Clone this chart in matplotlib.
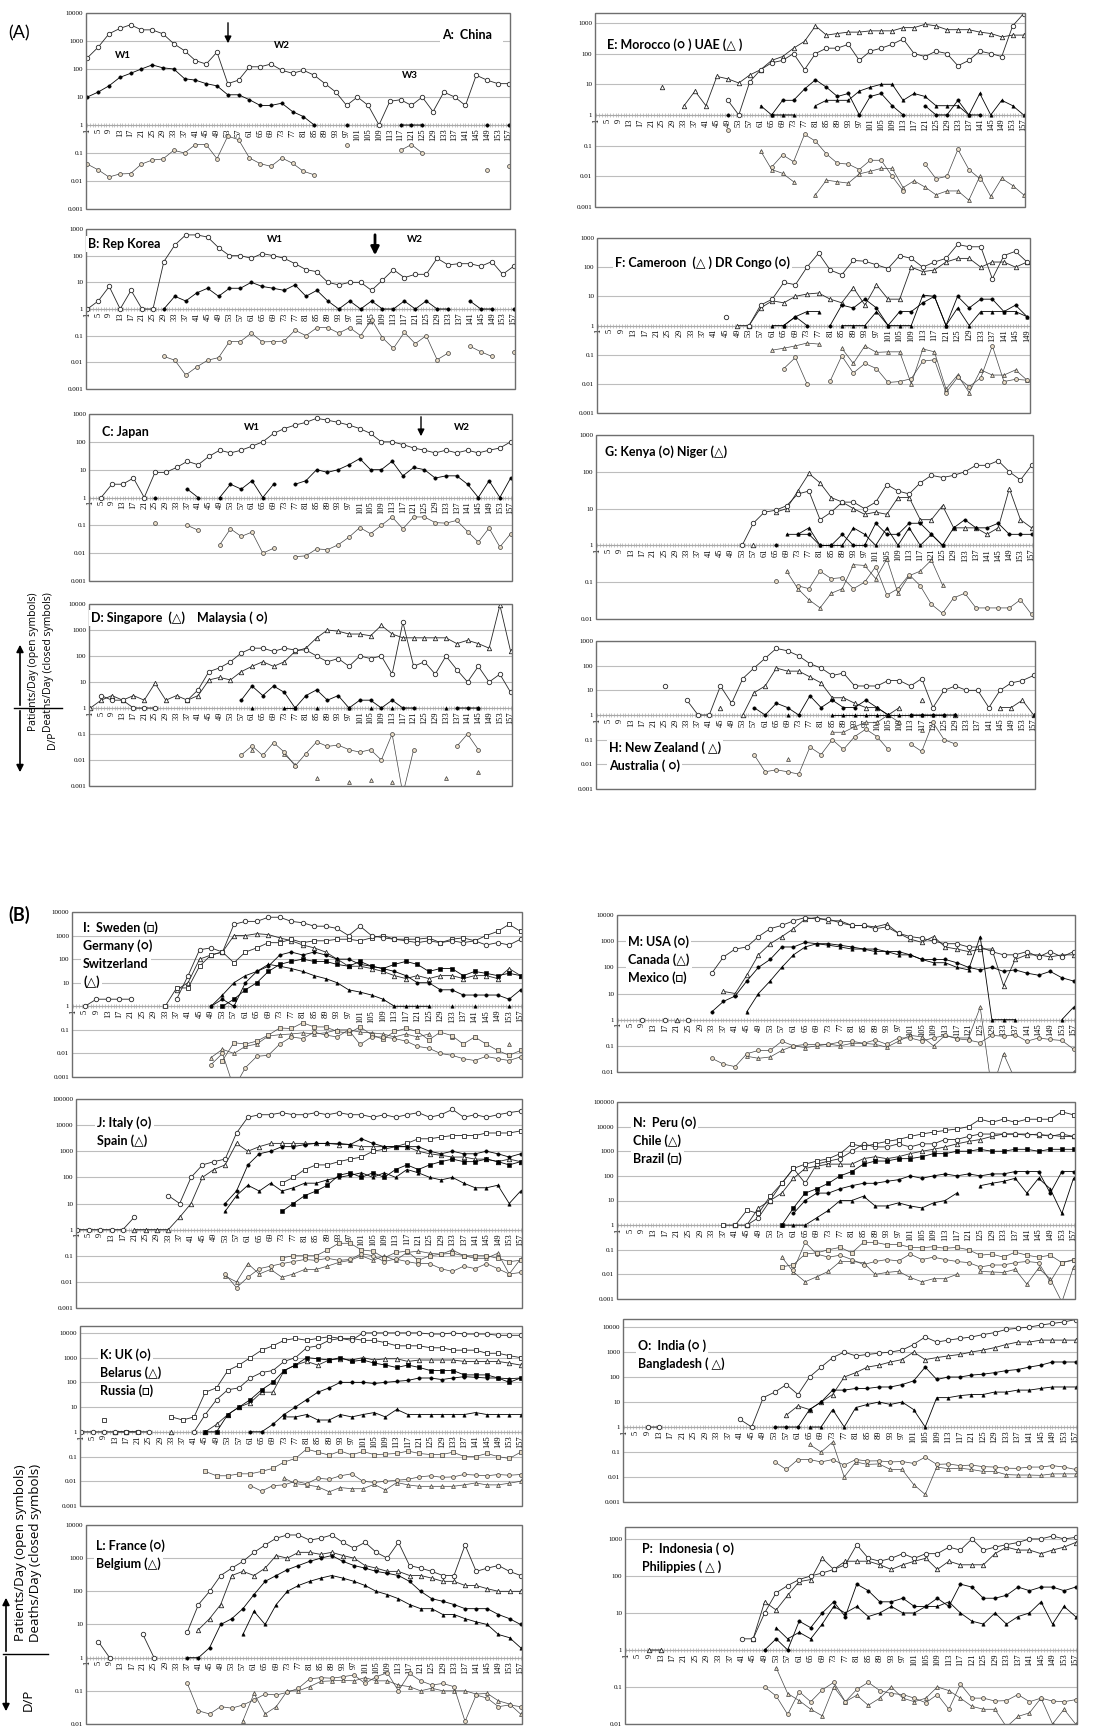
import numpy as np
import matplotlib
matplotlib.use('Agg')
import matplotlib.pyplot as plt
from matplotlib.ticker import FixedLocator, MultipleLocator, NullLocator
from matplotlib.patches import Rectangle

# --- Data (values every 4 days: day 1, 5, 9, ... ; 0 = no point) ---
china_cases = [250, 600, 1800, 2800, 3800, 2500, 2500, 1800, 800, 450, 200, 150, 400, 30, 40, 120, 120, 150, 90, 70,
               90, 60, 30, 15, 5, 10, 5, 1, 7, 8, 5, 10, 3, 15, 10, 5, 60, 40, 30, 30]
china_deaths = [10, 15, 25, 50, 70, 100, 140, 110, 100, 45, 40, 30, 25, 12, 12, 8, 5, 5, 6, 3,
                2, 1, 0, 0, 1, 0, 0, 0, 0, 1, 1, 1, 0, 0, 0, 0, 0, 1, 0, 1]

korea_cases = [1, 2, 7, 1, 5, 1, 1, 60, 250, 600, 600, 500, 200, 100, 100, 80, 120, 100, 80, 50,
               30, 25, 10, 8, 10, 10, 5, 12, 30, 15, 20, 20, 80, 45, 50, 50, 40, 60, 20, 40]
korea_deaths = [0, 0, 0, 0, 0, 0, 0, 1, 3, 2, 4, 6, 3, 6, 6, 10, 7, 6, 5, 8,
                3, 5, 2, 1, 2, 1, 2, 1, 1, 2, 1, 2, 1, 1, 0, 2, 1, 1, 0, 1]

japan_cases = [0, 1, 3, 3, 5, 1, 8, 8, 12, 20, 15, 30, 50, 40, 50, 70, 100, 200, 300, 400,
               500, 700, 600, 500, 400, 300, 200, 100, 100, 80, 60, 50, 40, 50, 40, 50, 40, 50, 60, 100]
japan_deaths = [0, 0, 0, 0, 0, 0, 1, 0, 0, 2, 1, 0, 1, 3, 2, 4, 1, 3, 0, 3,
                4, 10, 8, 10, 15, 25, 10, 10, 20, 6, 12, 10, 5, 6, 6, 3, 1, 4, 1, 5]

sing_cases = [1, 2, 3, 2, 3, 2, 9, 2, 3, 2, 3, 12, 15, 12, 25, 40, 60, 40, 60, 150,
              200, 500, 1000, 900, 700, 700, 600, 1500, 700, 500, 500, 500, 500, 500, 300, 400, 300, 200, 9000, 150]
sing_deaths = [0, 0, 0, 0, 0, 0, 0, 0, 0, 0, 0, 0, 0, 0, 0, 1, 0, 0, 1, 1,
               0, 1, 0, 0, 1, 0, 1, 0, 1, 0, 0, 0, 0, 1, 0, 0, 1, 0, 0, 0]
malay_cases = [0, 3, 2, 2, 1, 1, 1, 0, 0, 2, 5, 25, 35, 60, 130, 200, 200, 150, 200, 170,
               170, 100, 60, 80, 40, 100, 80, 100, 20, 2000, 40, 60, 20, 100, 30, 10, 40, 10, 20, 4]
malay_deaths = [0, 0, 0, 0, 0, 0, 0, 0, 0, 0, 0, 0, 0, 0, 2, 7, 3, 7, 4, 1,
                3, 5, 2, 3, 1, 2, 2, 1, 2, 1, 1, 0, 0, 0, 1, 1, 1, 0, 0, 0]

uae_cases = [0, 0, 0, 0, 0, 0, 8, 0, 2, 6, 2, 18, 15, 11, 20, 30, 60, 80, 150, 250,
             800, 400, 450, 500, 500, 550, 550, 550, 700, 700, 900, 800, 600, 600, 600, 500, 450, 350, 400, 400]
uae_deaths = [0, 0, 0, 0, 0, 0, 0, 0, 0, 0, 0, 0, 0, 0, 0, 2, 1, 1, 1, 0,
              2, 3, 3, 3, 6, 8, 10, 10, 3, 5, 4, 2, 2, 2, 1, 5, 1, 3, 2, 1]
morocco_cases = [0, 0, 0, 0, 0, 0, 0, 0, 0, 0, 0, 0, 3, 1, 12, 30, 50, 60, 100, 30,
                 100, 150, 150, 200, 60, 120, 150, 200, 300, 100, 80, 120, 100, 40, 60, 120, 100, 80, 800, 2000]
morocco_deaths = [0, 0, 0, 0, 0, 0, 0, 0, 0, 0, 0, 0, 1, 0, 0, 0, 1, 3, 3, 7,
                  14, 8, 4, 5, 1, 4, 5, 2, 1, 0, 2, 1, 1, 3, 1, 1, 0, 0, 0, 0]

drc_cases = [0, 0, 0, 0, 0, 0, 0, 0, 0, 0, 0, 2, 0, 1, 5, 8, 30, 25, 100, 300,
             80, 55, 170, 160, 120, 90, 250, 200, 100, 150, 200, 600, 500, 500, 40, 250, 350, 150]
drc_deaths = [0, 0, 0, 0, 0, 0, 0, 0, 0, 0, 0, 0, 0, 0, 0, 0, 1, 2, 1, 0,
              1, 5, 4, 8, 4, 1, 3, 3, 6, 10, 1, 10, 4, 8, 8, 3, 5, 2]
cam_cases = [0, 0, 0, 0, 0, 0, 0, 0, 0, 0, 0, 0, 1, 1, 4, 7, 6, 10, 12, 13,
             8, 6, 20, 5, 25, 8, 8, 100, 70, 80, 150, 200, 200, 100, 150, 150, 100, 150]
cam_deaths = [0, 0, 0, 0, 0, 0, 0, 0, 0, 0, 0, 0, 0, 0, 0, 1, 1, 2, 3, 3,
              0, 1, 1, 1, 3, 1, 1, 1, 11, 10, 1, 4, 1, 3, 3, 3, 3, 2]

kenya_cases = [0, 0, 0, 0, 0, 0, 0, 0, 0, 0, 0, 0, 0, 1, 4, 8, 9, 12, 25, 30,
               5, 8, 15, 15, 10, 15, 45, 30, 25, 50, 80, 70, 80, 100, 150, 150, 200, 100, 60, 150]
kenya_deaths = [0, 0, 0, 0, 0, 0, 0, 0, 0, 0, 0, 0, 0, 0, 0, 0, 1, 0, 2, 2,
                1, 1, 2, 1, 1, 4, 2, 2, 4, 4, 2, 1, 3, 5, 3, 3, 4, 2, 2, 2]
niger_cases = [0, 0, 0, 0, 0, 0, 0, 0, 0, 0, 0, 0, 0, 0, 1, 0, 8, 10, 30, 90,
               50, 20, 15, 10, 7, 8, 7, 20, 20, 5, 5, 12, 3, 3, 3, 2, 3, 35, 5, 3]
niger_deaths = [0, 0, 0, 0, 0, 0, 0, 0, 0, 0, 0, 0, 0, 0, 0, 0, 0, 2, 2, 3,
                1, 1, 1, 3, 2, 1, 3, 1, 3, 1, 2, 1, 0, 0, 0, 0, 0, 0, 0, 0]

aus_cases = [0, 0, 0, 0, 0, 0, 15, 0, 4, 1, 1, 15, 3, 30, 80, 200, 500, 400, 250, 120,
             80, 40, 50, 15, 15, 15, 25, 25, 15, 30, 2, 10, 15, 10, 10, 2, 10, 20, 25, 40]
aus_deaths = [0, 0, 0, 0, 0, 0, 0, 0, 0, 0, 0, 0, 0, 0, 2, 1, 3, 2, 1, 6,
              2, 4, 2, 2, 4, 2, 1, 0, 1, 1, 1, 1, 1, 0, 0, 0, 0, 0, 0, 0]
nz_cases = [0, 0, 0, 0, 0, 0, 0, 0, 0, 0, 0, 2, 0, 1, 8, 15, 80, 60, 60, 35,
            20, 5, 5, 3, 2, 2, 1, 2, 0, 4, 0, 0, 1, 0, 0, 0, 2, 2, 4, 1]
nz_deaths = [0, 0, 0, 0, 0, 0, 0, 0, 0, 0, 0, 0, 0, 0, 0, 0, 0, 1, 0, 0,
             0, 1, 1, 1, 1, 1, 1, 1, 1, 1, 1, 1, 0, 0, 0, 0, 0, 0, 0, 1]

germany_cases = [0, 1, 2, 2, 2, 2, 0, 0, 0, 2, 20, 250, 300, 200, 3000, 4000, 4000, 6000, 6000, 4000,
                 3500, 2500, 2500, 2000, 1000, 2500, 1000, 800, 700, 600, 500, 600, 500, 600, 500, 600, 400, 500, 400, 700]
germany_deaths = [0, 0, 0, 0, 0, 0, 0, 0, 0, 0, 0, 0, 1, 2, 1, 10, 30, 50, 150, 200,
                  150, 200, 150, 100, 100, 60, 50, 40, 30, 20, 10, 10, 5, 5, 3, 3, 3, 3, 2, 5]
swiss_cases = [0, 0, 0, 0, 0, 0, 0, 0, 0, 5, 10, 100, 150, 200, 1000, 1000, 1200, 1100, 800, 600,
               400, 300, 200, 100, 50, 50, 40, 30, 20, 15, 20, 15, 20, 20, 15, 20, 20, 15, 40, 20]
swiss_deaths = [0, 0, 0, 0, 0, 0, 0, 0, 0, 0, 0, 0, 1, 3, 10, 20, 30, 60, 50, 40,
                30, 20, 15, 10, 5, 4, 3, 2, 1, 1, 1, 1, 0, 1, 0, 1, 0, 0, 1, 0]
sweden_cases = [0, 0, 0, 0, 0, 0, 0, 0, 1, 6, 6, 50, 150, 200, 70, 200, 300, 500, 500, 700,
                500, 600, 600, 700, 700, 600, 800, 1000, 700, 700, 700, 800, 500, 700, 800, 600, 1000, 1500, 3000, 1500]
sweden_deaths = [0, 0, 0, 0, 0, 0, 0, 0, 0, 0, 0, 0, 0, 1, 2, 5, 10, 30, 60, 80,
                 100, 80, 80, 60, 50, 80, 50, 40, 60, 80, 60, 30, 40, 40, 20, 30, 25, 20, 25, 20]

italy_cases = [1, 1, 1, 1, 1, 3, 0, 0, 20, 10, 100, 300, 400, 500, 5000, 20000, 25000, 25000, 30000, 25000,
               25000, 30000, 25000, 30000, 25000, 25000, 20000, 25000, 20000, 25000,
               30000, 20000, 25000, 40000, 20000, 25000, 20000, 25000, 30000, 35000]
italy_deaths = [0, 0, 0, 0, 0, 0, 0, 0, 0, 0, 0, 0, 0, 10, 30, 300, 800, 1000, 1500, 1500,
                1800, 2000, 2000, 2000, 1800, 3000, 2000, 1500, 1500, 1500, 1500, 1000, 800, 1000, 800, 800, 1000, 800, 600, 800]
spain_cases = [0, 0, 0, 0, 0, 1, 1, 1, 1, 3, 10, 100, 200, 300, 2000, 1000, 1500, 2000, 2000, 2000,
               2000, 2000, 2000, 1800, 1800, 1500, 1500, 1500, 1500, 1500, 1000, 800, 700, 600, 600, 500, 500, 400, 500, 400]
spain_deaths = [0, 0, 0, 0, 0, 0, 0, 0, 0, 0, 0, 0, 0, 5, 20, 50, 30, 60, 30, 40,
                60, 60, 80, 100, 120, 150, 100, 150, 100, 200, 150, 100, 80, 100, 60, 40, 40, 50, 10, 30]
jsq_cases = [0, 0, 0, 0, 0, 0, 0, 0, 0, 0, 0, 0, 0, 0, 0, 0, 0, 0, 60, 100,
             200, 300, 300, 400, 500, 600, 1000, 1200, 1500, 2000, 3000, 3000, 3500, 4000, 4000, 4000, 5000, 5000, 5000, 6000]
jsq_deaths = [0, 0, 0, 0, 0, 0, 0, 0, 0, 0, 0, 0, 0, 0, 0, 0, 0, 0, 5, 10,
              20, 30, 50, 120, 150, 100, 150, 100, 200, 300, 200, 300, 400, 500, 400, 400, 500, 400, 300, 400]

uk_cases = [1, 1, 1, 1, 1, 1, 1, 0, 0, 0, 1, 5, 20, 50, 60, 150, 250, 300, 700, 1000,
            2500, 3000, 5000, 6000, 5000, 10000, 10000, 10000, 10000, 10000, 10000, 9000, 9000, 10000, 9000,
            9000, 9000, 8000, 8000, 8000]
uk_deaths = [0, 0, 0, 0, 0, 0, 0, 0, 0, 0, 0, 0, 0, 0, 0, 1, 1, 2, 5, 10,
             20, 40, 60, 100, 100, 100, 90, 100, 110, 120, 150, 150, 130, 150, 170, 160, 150, 150, 140, 150]
russia_cases = [0, 0, 3, 0, 1, 1, 0, 0, 4, 3, 4, 40, 60, 300, 500, 1000, 2000, 3000, 5000, 6000,
                5000, 6000, 7000, 6000, 6000, 5000, 5000, 4000, 3000, 3000, 3000, 2500, 2500, 2000, 2000,
                2000, 1500, 1500, 1200, 1000]
russia_deaths = [0, 0, 0, 0, 0, 0, 0, 0, 0, 0, 0, 1, 1, 5, 10, 20, 50, 100, 300, 500,
                 1000, 900, 800, 1000, 700, 800, 600, 500, 400, 500, 400, 300, 300, 300, 200, 200, 200, 150, 100, 150]
belarus_cases = [0, 0, 0, 1, 1, 0, 0, 0, 1, 0, 0, 1, 2, 5, 10, 15, 40, 40, 300, 500,
                 700, 500, 800, 900, 800, 1000, 800, 900, 900, 700, 800, 800, 800, 800, 700, 700, 700, 700, 600, 500]
belarus_deaths = [0, 0, 0, 0, 0, 0, 0, 0, 0, 0, 0, 0, 0, 0, 0, 0, 0, 0, 4, 4,
                  5, 3, 3, 5, 4, 5, 6, 4, 8, 5, 5, 5, 5, 5, 5, 6, 5, 5, 5, 5]

france_cases = [0, 3, 1, 0, 0, 5, 1, 0, 0, 6, 40, 100, 300, 500, 800, 1500, 2500, 4000, 5000, 5000,
                3500, 4000, 5000, 3000, 2000, 3000, 1500, 1000, 3000, 600, 500, 400, 300, 300, 2500, 400, 500, 600, 400, 300]
france_deaths = [0, 0, 0, 0, 0, 0, 0, 0, 0, 1, 1, 2, 10, 15, 30, 80, 200, 300, 450, 600,
                 800, 1000, 1200, 800, 600, 500, 400, 350, 300, 200, 100, 60, 50, 40, 30, 30, 30, 20, 15, 10]
belgium_cases = [0, 0, 0, 0, 0, 0, 0, 0, 0, 0, 7, 15, 40, 300, 400, 300, 500, 1200, 1000, 1500,
                 1500, 1300, 1500, 1200, 1000, 600, 500, 400, 400, 300, 300, 250, 200, 200, 150, 150, 120, 100, 100, 100]
belgium_deaths = [0, 0, 0, 0, 0, 0, 0, 0, 0, 0, 0, 0, 0, 0, 5, 25, 10, 40, 100, 150,
                  200, 250, 300, 250, 200, 150, 100, 80, 60, 40, 30, 30, 20, 20, 15, 12, 10, 5, 4, 2]

usa_cases = [0, 0, 1, 0, 1, 0, 1, 0, 60, 250, 500, 600, 1500, 3000, 4000, 6000, 8000, 7000, 7000, 5000,
             4000, 4000, 3000, 3500, 2000, 1500, 1300, 1000, 800, 800, 600, 600, 400, 300, 300, 400, 250, 400, 250, 400]
usa_deaths = [0, 0, 0, 0, 0, 0, 0, 0, 2, 5, 8, 30, 100, 200, 600, 600, 900, 800, 800, 700,
              600, 500, 500, 400, 400, 300, 200, 200, 200, 150, 100, 80, 100, 70, 80, 60, 50, 70, 40, 30]
canada_cases = [0, 0, 0, 0, 0, 1, 0, 0, 0, 12, 10, 50, 300, 800, 1500, 3000, 7000, 8000, 6000, 6000,
                4000, 4000, 3500, 4500, 2000, 1200, 900, 1500, 600, 500, 400, 500, 500, 20, 200, 300, 300, 250, 300, 300]
canada_deaths = [0, 0, 0, 0, 0, 0, 0, 0, 0, 0, 0, 2, 10, 30, 100, 300, 600, 800, 700, 600,
                 500, 500, 400, 400, 300, 300, 200, 150, 150, 100, 80, 1500, 1, 1, 1, 0, 0, 0, 1, 3]

peru_cases = [0, 0, 0, 0, 0, 0, 0, 0, 0, 0, 0, 1, 2, 10, 50, 200, 50, 300, 400, 500,
              1000, 2000, 1500, 1500, 2000, 1500, 2000, 2000, 3000, 3000, 4000, 5000, 5000, 5000, 5000, 4500, 5000, 4000, 5000, 4000]
peru_deaths = [0, 0, 0, 0, 0, 0, 0, 0, 0, 0, 0, 0, 0, 0, 0, 3, 10, 20, 20, 30,
               40, 50, 50, 60, 70, 100, 80, 100, 120, 100, 120, 100, 120, 120, 150, 150, 150, 20, 150, 150]
chile_cases = [0, 0, 0, 0, 0, 0, 0, 0, 0, 0, 1, 1, 5, 10, 20, 80, 200, 250, 300, 300,
               300, 500, 600, 500, 600, 800, 1000, 1200, 1500, 2000, 2500, 3000, 4000, 5000, 5000, 5000, 4500, 4500, 4000, 4000]
chile_deaths = [0, 0, 0, 0, 0, 0, 0, 0, 0, 0, 0, 0, 0, 0, 1, 1, 1, 2, 4, 10,
                10, 15, 6, 6, 8, 6, 5, 8, 10, 20, 0, 40, 50, 60, 80, 20, 80, 30, 3, 80]
brazil_cases = [0, 0, 0, 0, 0, 0, 0, 0, 0, 1, 1, 4, 3, 15, 50, 200, 300, 400, 500, 800,
                2000, 1500, 2000, 2500, 3000, 4000, 5000, 6000, 7000, 8000, 10000, 20000, 15000, 20000, 15000,
                20000, 20000, 20000, 40000, 30000]
brazil_deaths = [0, 0, 0, 0, 0, 0, 0, 0, 0, 0, 0, 0, 0, 0, 1, 5, 20, 30, 50, 100,
                 150, 300, 400, 400, 500, 500, 600, 800, 800, 1000, 1000, 1200, 1000, 1000, 1200, 1200, 1000, 1200, 1200, 1200]

india_cases = [0, 0, 1, 1, 0, 0, 0, 0, 0, 0, 2, 1, 15, 25, 50, 20, 100, 250, 600, 1000,
               700, 800, 900, 1000, 1200, 2000, 4000, 2500, 3000, 3500, 4000, 5000, 6000, 8000, 9000,
               10000, 12000, 14000, 16000, 20000]
india_deaths = [0, 0, 0, 0, 0, 0, 0, 0, 0, 0, 0, 0, 0, 1, 1, 1, 5, 10, 30, 30,
                35, 35, 40, 40, 50, 70, 250, 80, 100, 100, 120, 130, 150, 180, 200, 250, 300, 400, 400, 400]
bangla_cases = [0, 0, 0, 0, 0, 0, 0, 0, 0, 0, 0, 0, 0, 0, 3, 7, 5, 10, 20, 100,
                150, 250, 300, 400, 500, 1000, 500, 600, 700, 800, 1000, 1200, 1500, 2000, 2500, 2500, 3000, 3000, 3000, 3000]
bangla_deaths = [0, 0, 0, 0, 0, 0, 0, 0, 0, 0, 0, 0, 0, 0, 0, 0, 1, 1, 5, 1,
                 6, 8, 10, 8, 10, 5, 1, 15, 15, 18, 20, 20, 25, 25, 30, 30, 35, 40, 40, 40]

indo_cases = [0, 0, 0, 0, 0, 0, 0, 0, 0, 0, 2, 2, 10, 35, 55, 80, 100, 120, 150, 200,
              700, 300, 250, 300, 400, 300, 400, 400, 600, 500, 1000, 500, 600, 700, 800, 1000, 1000, 1200, 1000, 1100]
indo_deaths = [0, 0, 0, 0, 0, 0, 0, 0, 0, 0, 0, 0, 1, 2, 1, 6, 4, 10, 20, 8,
               60, 40, 20, 20, 25, 15, 15, 25, 15, 60, 50, 25, 25, 30, 50, 40, 50, 50, 40, 50]
phil_cases = [0, 0, 1, 1, 0, 0, 0, 0, 0, 0, 0, 2, 20, 12, 30, 70, 80, 300, 150, 250,
              250, 250, 200, 150, 200, 250, 300, 150, 250, 200, 200, 200, 400, 600, 500, 500, 400, 500, 600, 800]
phil_deaths = [0, 0, 0, 0, 0, 0, 0, 0, 0, 0, 0, 0, 0, 4, 2, 3, 2, 5, 15, 10,
               15, 8, 10, 15, 10, 10, 15, 15, 20, 10, 6, 5, 10, 5, 8, 10, 20, 5, 15, 8]

# --- Figure ---
W, H = 1108, 1727
fig = plt.figure(figsize=(W / 100, H / 100), dpi=100)
LABEL_FONT = ['Lato', 'DejaVu Sans']
TICK_FONT = 'Liberation Serif'


def clean(v):
    a = np.array(v, dtype=float)
    a[a <= 0] = np.nan
    return a


def panel(rect, ylim, series, last_day=157, xmax=157.5):
    l, t, r, b = rect
    ax = fig.add_axes([l / W, 1 - b / H, (r - l) / W, (b - t) / H])
    ax.set_yscale('log')
    ax.set_ylim(*ylim)
    ax.set_xlim(0.5, xmax)

    # category axis crosses at y = 1 (moving the spine resets ticks, so do it first)
    for s in ['top', 'left', 'right']:
        ax.spines[s].set_visible(False)
    ax.spines['bottom'].set_position(('data', 1))
    ax.spines['bottom'].set_color('#a8a8a8')
    ax.spines['bottom'].set_linewidth(0.8)
    ax.add_patch(Rectangle((0, 0), 1, 1, transform=ax.transAxes, fill=False,
                           ec='#6e6e6e', lw=1, clip_on=False, zorder=5))

    lo, hi = int(np.ceil(np.log10(ylim[0]) - 1e-9)), int(np.floor(np.log10(ylim[1]) + 1e-9))
    dec = [10.0 ** k for k in range(lo, hi + 1)]
    ax.yaxis.set_major_locator(FixedLocator(dec))
    ax.yaxis.set_minor_locator(NullLocator())
    ax.set_yticklabels(['%g' % v for v in dec], fontsize=5, family=TICK_FONT)
    ax.tick_params(axis='y', length=0, pad=2)
    ax.grid(axis='y', color='#bdbdbd', lw=0.8)
    ax.set_axisbelow(True)

    xt = list(range(1, last_day + 1, 4))
    ax.xaxis.set_major_locator(FixedLocator(xt))
    ax.xaxis.set_minor_locator(MultipleLocator(1))
    ax.set_xticklabels([str(d) for d in xt], fontsize=6, family=TICK_FONT, rotation=90)
    ax.tick_params(axis='x', which='both', direction='inout', length=3, width=0.4,
                   color='#9a9a9a', pad=1)

    for cases, deaths, mk in series:
        c = clean(cases)
        d = clean(deaths)
        days = 1 + 4 * np.arange(len(c))
        ax.plot(days, d / c, color='#444444', lw=0.5, marker=mk, ms=2.8,
                mfc='#e9dcc6', mec='#3a3a3a', mew=0.5, zorder=2)
        ax.plot(days, c, color='#262626', lw=0.6, marker=mk, ms=3.2,
                mfc='white', mec='#262626', mew=0.6, zorder=3)
        ax.plot(days, d, color='black', lw=0.6, marker=mk, ms=2.4,
                mfc='black', mec='black', mew=0.4, zorder=4)
    return ax


def txt(x, y, s, size=9, ha='left', bold=True, box=True):
    kw = dict(fontsize=size, ha=ha, va='center', family=LABEL_FONT,
              fontweight='bold' if bold else 'normal', zorder=10)
    if box:
        kw['bbox'] = dict(fc='white', ec='none', pad=1.5)
    fig.text(x / W, 1 - y / H, s, **kw)


def arrow(x, y0, y1, lw=1.0):
    fig.add_artist(matplotlib.patches.FancyArrowPatch(
        (x / W, 1 - y0 / H), (x / W, 1 - y1 / H), transform=fig.transFigure,
        arrowstyle='-|>', mutation_scale=8 + 2 * lw, color='black', lw=lw))


def line(x0, x1, y):
    fig.add_artist(matplotlib.lines.Line2D([x0 / W, x1 / W], [1 - y / H, 1 - y / H],
                                           transform=fig.transFigure, color='black', lw=1))


# --- Section (A) ---
panel((86, 13, 510, 209), (0.001, 10000), [(china_cases, china_deaths, 'o')])
panel((86, 229, 515, 389), (0.001, 1000), [(korea_cases, korea_deaths, 'o')])
panel((89, 414, 512, 581), (0.001, 1000), [(japan_cases, japan_deaths, 'o')])
panel((89, 604, 512, 786), (0.001, 10000),
      [(sing_cases, sing_deaths, '^'), (malay_cases, malay_deaths, 'o')])
panel((595, 13, 1025, 207), (0.001, 2100),
      [(uae_cases, uae_deaths, '^'), (morocco_cases, morocco_deaths, 'o')])
panel((597, 238, 1030, 413), (0.001, 1000),
      [(cam_cases, cam_deaths, '^'), (drc_cases, drc_deaths, 'o')], last_day=149, xmax=150)
panel((596, 435, 1033, 619), (0.01, 1000),
      [(niger_cases, niger_deaths, '^'), (kenya_cases, kenya_deaths, 'o')])
panel((596, 641, 1035, 789), (0.001, 1000),
      [(nz_cases, nz_deaths, '^'), (aus_cases, aus_deaths, 'o')])

# --- Section (B) ---
panel((72, 912, 522, 1077), (0.001, 10000),
      [(swiss_cases, swiss_deaths, '^'), (sweden_cases, sweden_deaths, 's'),
       (germany_cases, germany_deaths, 'o')])
panel((76, 1099, 522, 1308), (0.001, 100000),
      [(spain_cases, spain_deaths, '^'), (jsq_cases, jsq_deaths, 's'),
       (italy_cases, italy_deaths, 'o')])
panel((80, 1326, 522, 1506), (0.001, 19000),
      [(belarus_cases, belarus_deaths, '^'), (russia_cases, russia_deaths, 's'),
       (uk_cases, uk_deaths, 'o')])
panel((86, 1525, 522, 1724), (0.01, 10000),
      [(belgium_cases, belgium_deaths, '^'), (france_cases, france_deaths, 'o')])
panel((617, 915, 1075, 1072), (0.01, 10000),
      [(canada_cases, canada_deaths, '^'), (usa_cases, usa_deaths, 'o')])
panel((617, 1102, 1075, 1299), (0.001, 100000),
      [(chile_cases, chile_deaths, '^'), (peru_cases, peru_deaths, 'o'),
       (brazil_cases, brazil_deaths, 's')])
panel((623, 1319, 1077, 1502), (0.001, 21000),
      [(bangla_cases, bangla_deaths, '^'), (india_cases, india_deaths, 'o')])
panel((625, 1527, 1077, 1724), (0.01, 2100),
      [(phil_cases, phil_deaths, '^'), (indo_cases, indo_deaths, 'o')])

# --- Labels ---
txt(8, 33, '(A)', size=13, bold=False, box=False)
txt(8, 915, '(B)', size=13, bold=True, box=False)

txt(442, 35, 'A:  China   ')
txt(88, 244, 'B: Rep Korea')
txt(102, 432, 'C: Japan')
txt(91, 618, 'D: Singapore  (\u25b3)    Malaysia ( \u25cb)')
txt(607, 45, 'E: Morocco (\u25cb ) UAE (\u25b3 )')
txt(615, 263, 'F: Cameroon  (\u25b3 ) DR Congo (\u25cb)')
txt(605, 452, 'G: Kenya (\u25cb) Niger (\u25b3)')
txt(609, 748, 'H: New Zealand ( \u25b3)')
txt(609, 766, 'Australia ( \u25cb)')

for s, x, y in [('W1', 123, 55), ('W2', 282, 46), ('W3', 410, 75),
                ('W1', 275, 240), ('W2', 415, 240), ('W1', 252, 428), ('W2', 462, 428)]:
    txt(x, y, s, size=7, ha='center', box=False)
arrow(228, 20, 46, lw=1.0)
arrow(375, 232, 258, lw=2.0)
arrow(421, 414, 439, lw=1.0)

for lines_, x, y0 in [(['I:  Sweden (\u25a1)', 'Germany (\u25cb)', 'Switzerland', '(\u25b3)'], 83, 928),
                      (['J: Italy (\u25cb)', 'Spain (\u25b3)'], 97, 1123),
                      (['K: UK (\u25cb)', 'Belarus (\u25b3)', 'Russia (\u25a1)'], 100, 1355),
                      (['L: France (\u25cb)', 'Belgium (\u25b3)'], 96, 1546),
                      (['M: USA (\u25cb)', 'Canada (\u25b3)', 'Mexico (\u25a1)'], 628, 942),
                      (['N:  Peru (\u25cb)', 'Chile (\u25b3)', 'Brazil (\u25a1)'], 633, 1123),
                      (['O:  India (\u25cb )', 'Bangladesh ( \u25b3)'], 638, 1346),
                      (['P:  Indonesia ( \u25cb)', 'Philippies ( \u25b3 )'], 642, 1549)]:
    for i, s in enumerate(lines_):
        txt(x, y0 + 18 * i, s)

# --- Side axis captions ---
CAPTION = 'Patients/Day (open symbols)\nDeaths/Day (closed symbols)'
fig.text(41 / W, 1 - 662 / H, CAPTION, rotation=90, ha='center', va='center',
         fontsize=7.5, family='Open Sans', linespacing=1.4)
line(14, 62, 708)
arrow(20, 708, 642, lw=1.2)
arrow(20, 708, 775, lw=1.2)
fig.text(52 / W, 1 - 740 / H, 'D/P', rotation=90, ha='center', va='center',
         fontsize=7.5, family='Open Sans')

fig.text(28 / W, 1 - 1553 / H, CAPTION, rotation=90, ha='center', va='center',
         fontsize=9.5, family='Open Sans', linespacing=1.15)
line(3, 48, 1654)
arrow(6, 1654, 1595, lw=1.2)
arrow(6, 1654, 1714, lw=1.2)
fig.text(28 / W, 1 - 1700 / H, 'D/P', rotation=90, ha='center', va='center',
         fontsize=9.5, family='Open Sans')

plt.savefig('out.png', dpi=100)
